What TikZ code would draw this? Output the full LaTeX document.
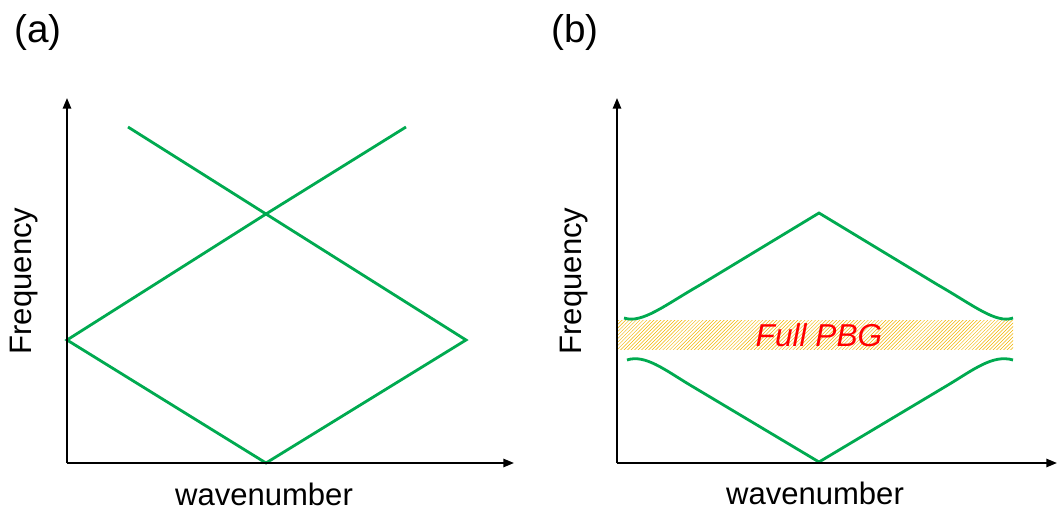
\documentclass[tikz,border=0pt]{standalone}
\usepackage{fontspec}
\setmainfont{Liberation Sans}
\usetikzlibrary{arrows.meta,patterns}
\definecolor{bandgreen}{RGB}{0,170,80}
\definecolor{hatchgold}{RGB}{242,180,0}
\tikzset{
  axis/.style={line width=1.6pt, -{Triangle[length=9pt,width=7pt]}},
  band/.style={bandgreen, line width=2.4pt},
  lbl/.style={font=\fontsize{26.5}{30}\selectfont, inner sep=0pt},
  panel/.style={font=\fontsize{33}{36}\selectfont, inner sep=0pt}
}
\begin{document}
\begin{tikzpicture}[x=0.03cm,y=-0.03cm]
\useasboundingbox (0,0) rectangle (1057,510);
% panel (a)
\coordinate (oa) at (67,463);
\coordinate (ya) at (67,98);
\coordinate (xa) at (514,463);
\node[panel] (pa) at (38,32) {(a)};
\node[lbl, rotate=90] (fa) at (24,281) {Frequency};
\node[lbl] (wa) at (264,494) {wavenumber};
\draw[band] (128,127)--(266,214)--(466,340)--(266,463)--(67,340)--(266,214)--(406,127);
\draw[axis] (oa)--(ya);
\draw[axis] (oa)--(xa);
% panel (b)
\coordinate (ob) at (617,463);
\coordinate (yb) at (617,98);
\coordinate (xb) at (1057,463);
\node[panel] (pb) at (575,32) {(b)};
\node[lbl, rotate=90] (fb) at (574,281) {Frequency};
\node[lbl] (wb) at (815,493) {wavenumber};
\fill[pattern=north east lines, pattern color=hatchgold] (617,320) rectangle (1013,349);
\node[font=\fontsize{27}{30}\selectfont\itshape, text=red, inner sep=0pt] (gap) at (819,335) {Full PBG};
\draw[band] (624,318) .. controls (642,324) and (665,305) .. (700,285) -- (819,213) -- (938,285) .. controls (973,305) and (996,324) .. (1013,318);
\draw[band] (627,360) .. controls (645,354) and (665,370) .. (690,385) -- (819,462) -- (948,385) .. controls (973,370) and (993,354) .. (1013,360);
\draw[axis] (ob)--(yb);
\draw[axis] (ob)--(xb);
\end{tikzpicture}
\end{document}
